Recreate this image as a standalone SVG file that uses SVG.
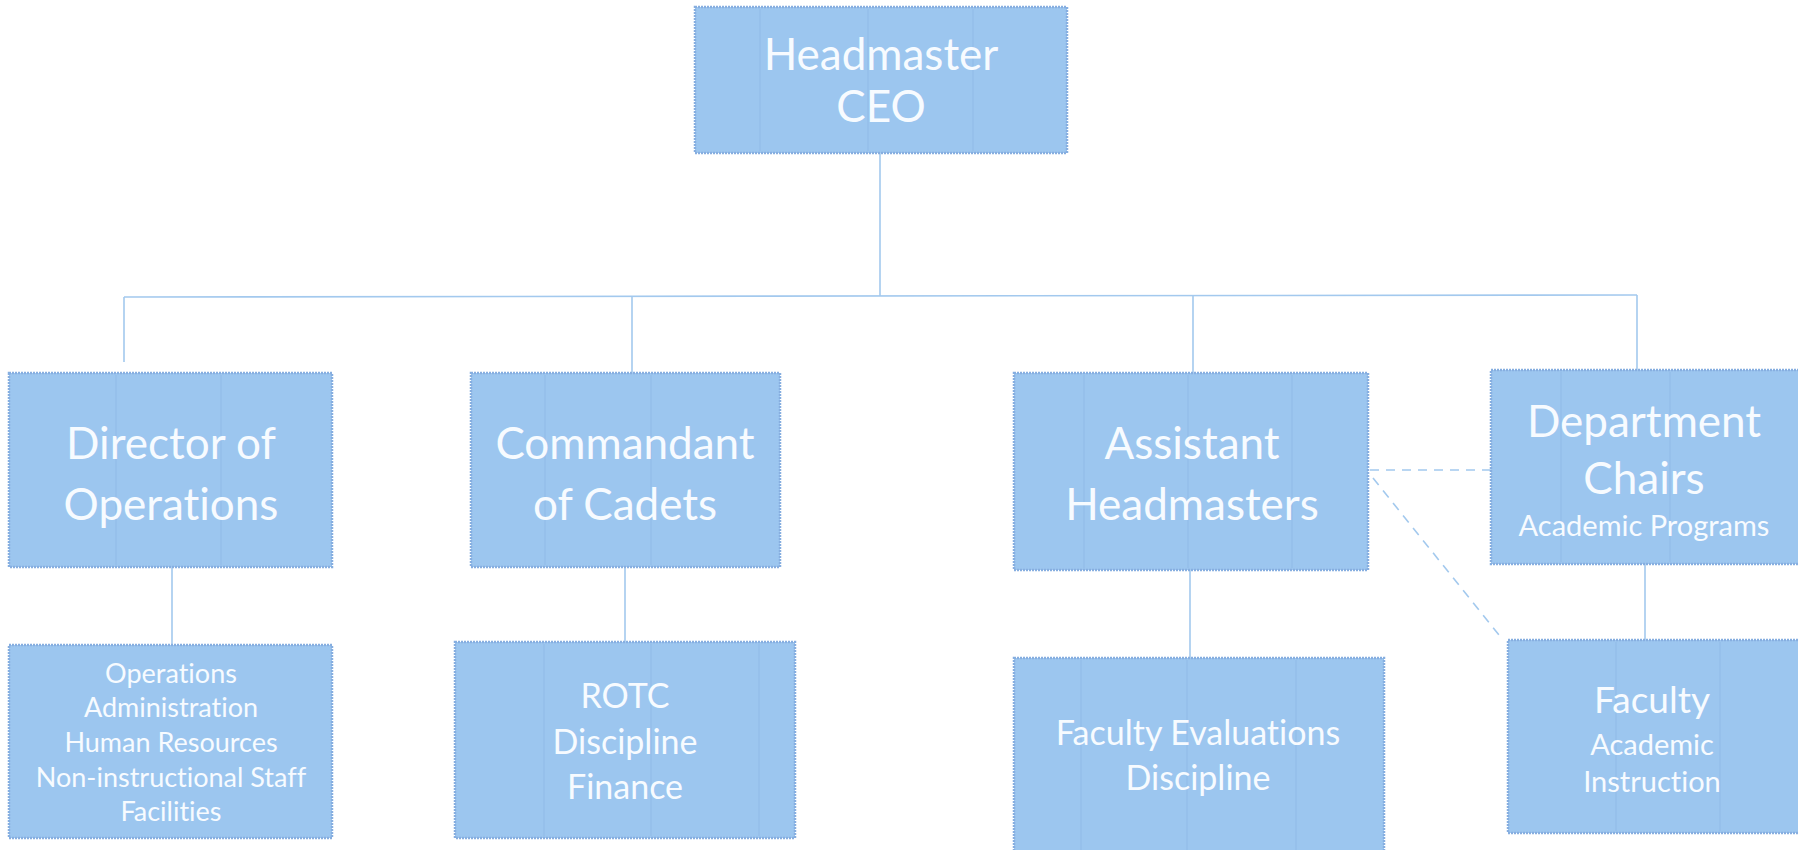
<svg xmlns="http://www.w3.org/2000/svg" width="1798" height="850" viewBox="0 0 1798 850">
<style>
.box{fill:#9cc6ef;stroke:#86aee0;stroke-width:2.5;stroke-dasharray:2 1}
.seam{stroke:#8fb9e6;stroke-width:1.2;opacity:0.7}
.t{fill:#f7fbff;font-family:Lato,"Open Sans","Liberation Sans",sans-serif;text-anchor:middle;font-variant-ligatures:none;font-feature-settings:"liga" 0}
.big{font-size:44px}
.mid{font-size:34px}
.sm{font-size:29px}
.xs{font-size:27px}
.ln{stroke:#a3c9ee;stroke-width:1.6;fill:none}
.dash{stroke:#a3c9ee;stroke-width:1.6;fill:none;stroke-dasharray:9 7}
</style>
<rect width="1798" height="850" fill="#ffffff"/>
<g id="connectors">
<line class="ln" x1="880" y1="153" x2="880" y2="296"/>
<line class="ln" x1="124" y1="297" x2="1637" y2="295"/>
<line class="ln" x1="124" y1="297" x2="124" y2="362"/>
<line class="ln" x1="632" y1="296" x2="632" y2="373"/>
<line class="ln" x1="1193" y1="296" x2="1193" y2="373"/>
<line class="ln" x1="1637" y1="295" x2="1637" y2="370"/>
<line class="ln" x1="172" y1="567" x2="172" y2="645"/>
<line class="ln" x1="625" y1="567" x2="625" y2="642"/>
<line class="ln" x1="1190" y1="570" x2="1190" y2="658"/>
<line class="ln" x1="1645" y1="564" x2="1645" y2="640"/>
<line class="dash" x1="1370" y1="470" x2="1491" y2="470"/>
<line class="dash" x1="1373" y1="478" x2="1503" y2="640"/>
</g>
<g id="headmaster">
<rect class="box" x="695" y="7" width="372" height="146"/>
<line class="seam" x1="760" y1="9" x2="760" y2="151"/><line class="seam" x1="868" y1="9" x2="868" y2="151"/><line class="seam" x1="973" y1="9" x2="973" y2="151"/>
<text class="t big" x="881" y="70">Headmaster</text>
<text class="t big" x="881" y="122">CEO</text>
</g>
<g id="director">
<rect class="box" x="9" y="373" width="323" height="194"/>
<line class="seam" x1="116" y1="375" x2="116" y2="565"/><line class="seam" x1="221" y1="375" x2="221" y2="565"/>
<text class="t big" x="171" y="459">Director of</text>
<text class="t big" x="171" y="520">Operations</text>
</g>
<g id="commandant">
<rect class="box" x="471" y="373" width="309" height="194"/>
<line class="seam" x1="545" y1="375" x2="545" y2="565"/><line class="seam" x1="651" y1="375" x2="651" y2="565"/>
<text class="t big" x="625" y="459">Commandant</text>
<text class="t big" x="625" y="520">of Cadets</text>
</g>
<g id="assistant">
<rect class="box" x="1014" y="373" width="354" height="197"/>
<line class="seam" x1="1084" y1="375" x2="1084" y2="568"/><line class="seam" x1="1188" y1="375" x2="1188" y2="568"/><line class="seam" x1="1292" y1="375" x2="1292" y2="568"/>
<text class="t big" x="1192" y="459">Assistant</text>
<text class="t big" x="1192" y="520">Headmasters</text>
</g>
<g id="deptchairs">
<rect class="box" x="1491" y="370" width="310" height="194"/>
<line class="seam" x1="1561" y1="372" x2="1561" y2="562"/><line class="seam" x1="1670" y1="372" x2="1670" y2="562"/>
<text class="t big" x="1644" y="437">Department</text>
<text class="t big" x="1644" y="494">Chairs</text>
<text class="t sm" x="1644" y="536">Academic Programs</text>
</g>
<g id="operations">
<rect class="box" x="9" y="645" width="323" height="193"/>
<text class="t xs" x="171" y="683">Operations</text>
<text class="t xs" x="171" y="717">Administration</text>
<text class="t xs" x="171" y="752">Human Resources</text>
<text class="t xs" x="171" y="787">Non-instructional Staff</text>
<text class="t xs" x="171" y="821">Facilities</text>
</g>
<g id="rotc">
<rect class="box" x="455" y="642" width="340" height="196"/>
<line class="seam" x1="544" y1="644" x2="544" y2="836"/><line class="seam" x1="651" y1="644" x2="651" y2="836"/><line class="seam" x1="759" y1="644" x2="759" y2="836"/>
<text class="t mid" x="625" y="708">ROTC</text>
<text class="t mid" x="625" y="754">Discipline</text>
<text class="t mid" x="625" y="799">Finance</text>
</g>
<g id="facultyeval">
<rect class="box" x="1014" y="658" width="370" height="196"/>
<line class="seam" x1="1081" y1="660" x2="1081" y2="850"/><line class="seam" x1="1187" y1="660" x2="1187" y2="850"/><line class="seam" x1="1296" y1="660" x2="1296" y2="850"/>
<text class="t mid" x="1198" y="745">Faculty Evaluations</text>
<text class="t mid" x="1198" y="790">Discipline</text>
</g>
<g id="faculty">
<rect class="box" x="1508" y="640" width="293" height="193"/>
<line class="seam" x1="1616" y1="642" x2="1616" y2="831"/><line class="seam" x1="1720" y1="642" x2="1720" y2="831"/>
<text class="t" style="font-size:37px" x="1652" y="713">Faculty</text>
<text class="t sm" x="1652" y="755">Academic</text>
<text class="t sm" x="1652" y="792">Instruction</text>
</g>
</svg>
